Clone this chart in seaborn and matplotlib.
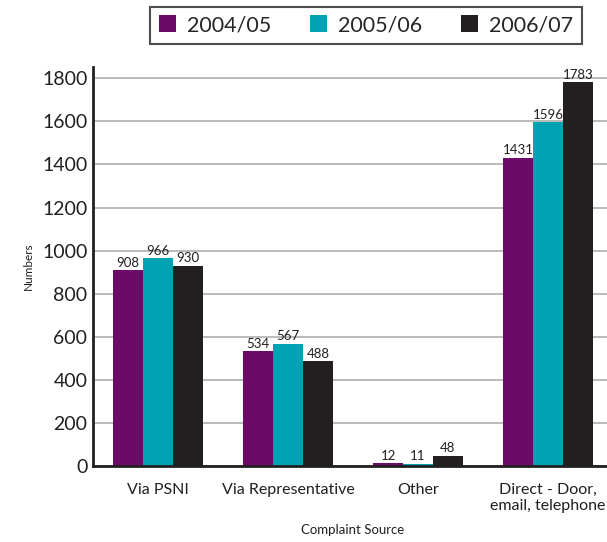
import pandas as pd
import matplotlib.pyplot as plt
import seaborn as sns

# data
categories = ["Via PSNI", "Via Representative", "Other", "Direct - Door,\nemail, telephone"]
years = ["2004/05", "2005/06", "2006/07"]
vals_0405 = [908, 534, 12, 1431]
vals_0506 = [966, 567, 11, 1596]
vals_0607 = [930, 488, 48, 1783]
y_ticks = [0, 200, 400, 600, 800, 1000, 1200, 1400, 1600, 1800]

colors = ["#6b0a67", "#00a3b4", "#231f20"]

df = pd.DataFrame({
    "source": categories * 3,
    "year": [y for y in years for _ in categories],
    "value": vals_0405 + vals_0506 + vals_0607,
})

sns.set_style("white")
plt.rcParams["font.family"] = ["Lato", "DejaVu Sans"]

fig = plt.figure(figsize=(6.07, 5.42), dpi=100)
ax = fig.add_axes([0.1532, 0.1402, 0.8567, 0.736])

sns.barplot(data=df, x="source", y="value", hue="year", palette=colors,
            width=0.69, saturation=1, linewidth=0, edgecolor="none",
            ax=ax, legend=True)

for cont in ax.containers:
    ax.bar_label(cont, fmt="%d", padding=1, fontsize=9.5, color="#231f20")

ax.set_ylim(0, 1852)
ax.set_xlim(-0.5, 3.5)
ax.set_yticks(y_ticks)
ax.tick_params(axis="y", labelsize=14, length=0, pad=4, colors="#231f20")
ax.tick_params(axis="x", labelsize=11.5, length=0, pad=12, colors="#231f20")
ax.yaxis.grid(True, color="#b4b4b4", linewidth=1.3)
ax.set_axisbelow(True)
for s in ["top", "right"]:
    ax.spines[s].set_visible(False)
for s in ["left", "bottom"]:
    ax.spines[s].set_color("#231f20")
    ax.spines[s].set_linewidth(2)

ax.set_xlabel("Complaint Source", fontsize=9.5, labelpad=8, color="#231f20")
ax.set_ylabel("Numbers", fontsize=8.5, labelpad=6, color="#231f20")

handles, labels = ax.get_legend_handles_labels()
ax.legend(handles, labels, ncol=3, loc="center", bbox_to_anchor=(0.603, 0.9535),
          bbox_transform=fig.transFigure, frameon=True, fancybox=False,
          edgecolor="#231f20", fontsize=15.5, handlelength=0.8, handleheight=0.8,
          handletextpad=0.5, columnspacing=1.8, borderpad=0.4)
ax.get_legend().get_frame().set_linewidth(1.5)

plt.savefig("out.png", dpi=100)
